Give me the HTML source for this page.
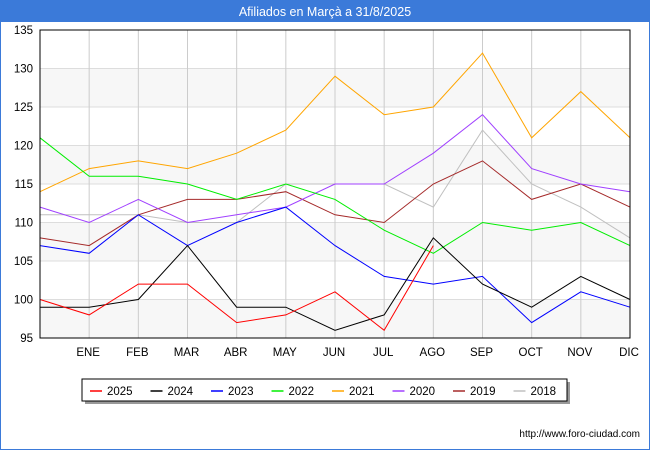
<!DOCTYPE html>
<html><head><meta charset="utf-8"><style>
body{margin:0;background:#fff;font-family:"Liberation Sans",sans-serif;}
#wrap{position:relative;width:650px;height:450px;border:0;box-sizing:border-box;}
</style></head><body>
<div id="wrap">
<svg id="chart" width="650" height="450" xmlns="http://www.w3.org/2000/svg">
<rect x="0" y="0" width="650" height="450" fill="#fff"/>
<rect x="0" y="0" width="650" height="22" fill="#3b7ad9"/>
<rect x="0" y="0" width="650" height="450" fill="none" stroke="#3b7ad9" stroke-width="2"/>
<text x="325" y="16" text-anchor="middle" font-size="12.5" fill="#fff">Afiliados en Marçà a 31/8/2025</text>
<g id="bands"></g><g id="grid"></g><g id="series"></g><g id="axes"></g>
<rect x="40" y="30" width="590" height="308" fill="none" stroke="#000" stroke-width="1"/>
<rect x="85" y="382" width="485" height="22" fill="#999"/>
<rect x="82" y="379" width="485" height="22" fill="#fff" stroke="#000"/>
<g id="legend"></g>
<text x="640" y="437" text-anchor="end" font-size="10" fill="#000">http://www.foro-ciudad.com</text>
</svg>
</div>
<script>
const categories=["","ENE","FEB","MAR","ABR","MAY","JUN","JUL","AGO","SEP","OCT","NOV","DIC"];
const yTicks=[95,100,105,110,115,120,125,130,135];
const seriesNames=["2025","2024","2023","2022","2021","2020","2019","2018"];
const seriesColors=["#ff0000","#000000","#0000ff","#00ee00","#ffa500","#a040ff","#a52a2a","#c0c0c0"];
const s2025=[100,98,102,102,97,98,101,96,107];
const s2024=[99,99,100,107,99,99,96,98,108,102,99,103,100];
const s2023=[107,106,111,107,110,112,107,103,102,103,97,101,99];
const s2022=[121,116,116,115,113,115,113,109,106,110,109,110,107];
const s2021=[114,117,118,117,119,122,129,124,125,132,121,127,121];
const s2020=[112,110,113,110,111,112,115,115,119,124,117,115,114];
const s2019=[108,107,111,113,113,114,111,110,115,118,113,115,112];
const s2018=[111,111,111,110,110,115,115,115,112,122,115,112,108];
const allSeries=[s2025,s2024,s2023,s2022,s2021,s2020,s2019,s2018];
const NS="http://www.w3.org/2000/svg";
const X0=40,X1=630,Y0=338,Y1=30,YMIN=95,YMAX=135;
function xs(i){return X0+(X1-X0)*i/(categories.length-1);}
function ys(v){return Y0-(v-YMIN)/(YMAX-YMIN)*(Y0-Y1);}
function mk(t,a,p){const e=document.createElementNS(NS,t);for(const k in a)e.setAttribute(k,a[k]);p.appendChild(e);return e;}
const bands=document.getElementById('bands'),grid=document.getElementById('grid'),axes=document.getElementById('axes'),ser=document.getElementById('series'),leg=document.getElementById('legend');
for(let i=0;i<yTicks.length-1;i+=2){
 const r=mk('rect',{x:X0,y:ys(yTicks[i+1]),width:X1-X0,height:ys(yTicks[i])-ys(yTicks[i+1]),fill:'#f7f7f7'},bands);
 
 
}
yTicks.forEach(v=>{
 const l=mk('line',{x1:X0,x2:X1,y1:ys(v),y2:ys(v),stroke:'#ddd'},grid);
 
 
 const t=mk('text',{x:X0-7,y:ys(v)+4,'text-anchor':'end','font-size':'11.5'},axes);t.textContent=v;
 
 
});
categories.forEach((c,i)=>{
 if(i===0)return;
 const l=mk('line',{x1:xs(i),x2:xs(i),y1:Y1,y2:Y0,stroke:'#ccc'},grid);
 
 
 const t=mk('text',{x:xs(i)-1,y:356,'text-anchor':'middle','font-size':'11.5'},axes);t.textContent=c;
 
 
});
for(let s=allSeries.length-1;s>=0;s--){
 const pts=allSeries[s].map((v,i)=>xs(i)+','+ys(v)).join(' ');
 const p=mk('polyline',{points:pts,fill:'none',stroke:seriesColors[s],'stroke-width':'1'},ser);
 
 
}
seriesNames.forEach((n,i)=>{
 const x=90+i*60.5;
 const l=mk('line',{x1:x,x2:x+12,y1:391,y2:391,stroke:seriesColors[i],'stroke-width':'1.5'},leg);
 
 
 const t=mk('text',{x:x+17,y:395,'font-size':'11.5'},leg);t.textContent=n;
 
 
});
</script>
</body></html>
